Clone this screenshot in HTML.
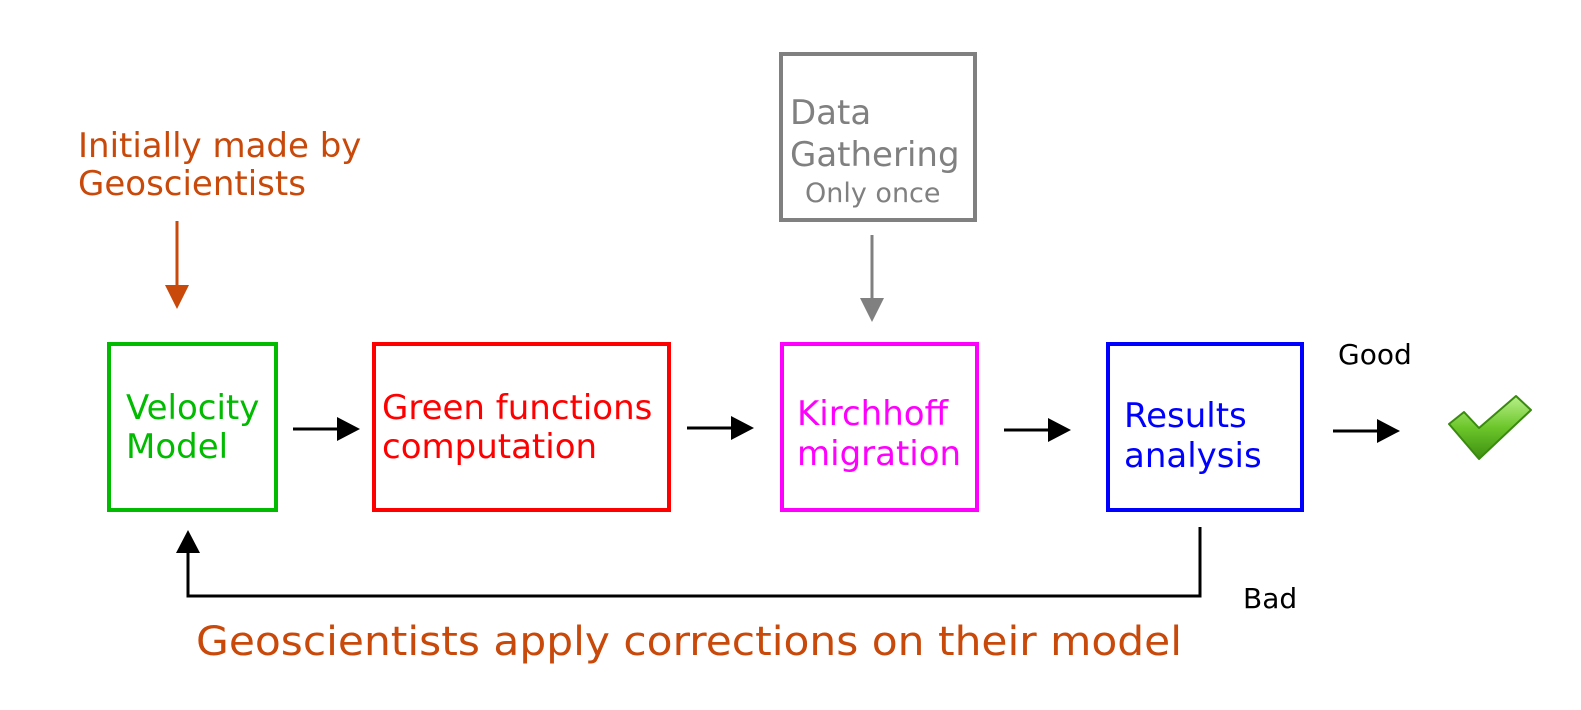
<!DOCTYPE html>
<html><head><meta charset="utf-8"><style>
html,body{margin:0;padding:0;background:#fff;}
svg{display:block;font-family:"DejaVu Sans","Liberation Sans",sans-serif;}
</style></head><body>
<svg width="1581" height="710" viewBox="0 0 1581 710" xmlns="http://www.w3.org/2000/svg">
<defs>
<linearGradient id="ck" x1="0" y1="0" x2="0" y2="1">
<stop offset="0" stop-color="#b8f08a"/><stop offset="0.5" stop-color="#6cc62a"/><stop offset="1" stop-color="#3d8f10"/>
</linearGradient>
</defs>
<rect width="1581" height="710" fill="#fff"/>
<text x="78" y="157" font-size="34" fill="#c8490a">Initially made by</text>
<text x="78" y="195" font-size="34" fill="#c8490a">Geoscientists</text>
<line x1="177" y1="221" x2="177" y2="288" stroke="#c8490a" stroke-width="3"/>
<polygon points="165,285 189,285 177,309" fill="#c8490a"/>
<rect x="781" y="54" width="194" height="166" fill="none" stroke="#808080" stroke-width="4"/>
<text x="790" y="124" font-size="34" fill="#808080">Data</text>
<text x="790" y="166" font-size="34" fill="#808080">Gathering</text>
<text x="805" y="202" font-size="27" fill="#808080">Only once</text>
<line x1="872" y1="235" x2="872" y2="300" stroke="#808080" stroke-width="3"/>
<polygon points="860,298 884,298 872,322" fill="#808080"/>
<rect x="109" y="344" width="167" height="166" fill="none" stroke="#00bb00" stroke-width="4"/>
<text x="126" y="419" font-size="34" fill="#00bb00">Velocity</text>
<text x="126" y="458" font-size="34" fill="#00bb00">Model</text>
<rect x="374" y="344" width="295" height="166" fill="none" stroke="#ff0000" stroke-width="4"/>
<text x="382" y="419" font-size="34" fill="#ff0000">Green functions</text>
<text x="382" y="458" font-size="34" fill="#ff0000">computation</text>
<rect x="782" y="344" width="195" height="166" fill="none" stroke="#ff00ff" stroke-width="4"/>
<text x="797" y="425" font-size="34" fill="#ff00ff">Kirchhoff</text>
<text x="797" y="465" font-size="34" fill="#ff00ff">migration</text>
<rect x="1108" y="344" width="194" height="166" fill="none" stroke="#0000ff" stroke-width="4"/>
<text x="1124" y="427" font-size="34" fill="#0000ff">Results</text>
<text x="1124" y="467" font-size="34" fill="#0000ff">analysis</text>
<g stroke="#000" stroke-width="3">
<line x1="293" y1="429" x2="340" y2="429"/>
<line x1="687" y1="428" x2="734" y2="428"/>
<line x1="1004" y1="430" x2="1051" y2="430"/>
<line x1="1333" y1="431" x2="1380" y2="431"/>
</g>
<polygon points="337,417 360,429 337,441" fill="#000"/>
<polygon points="731,416 754,428 731,440" fill="#000"/>
<polygon points="1048,418 1071,430 1048,442" fill="#000"/>
<polygon points="1377,419 1400,431 1377,443" fill="#000"/>
<text x="1338" y="364" font-size="28" fill="#000">Good</text>
<text x="1243" y="608" font-size="28" fill="#000">Bad</text>
<polyline points="1200,527 1200,596 188,596 188,550" fill="none" stroke="#000" stroke-width="3"/>
<polygon points="176,553 200,553 188,530" fill="#000"/>
<text x="196" y="655" font-size="40" fill="#c8490a" textLength="986" lengthAdjust="spacingAndGlyphs">Geoscientists apply corrections on their model</text>
<path d="M1449,424 L1464,412 L1479,428 L1516,396 L1531,410 L1479,459 Z" fill="url(#ck)" stroke="#3a8a10" stroke-width="2" stroke-linejoin="round"/>
</svg>
</body></html>
